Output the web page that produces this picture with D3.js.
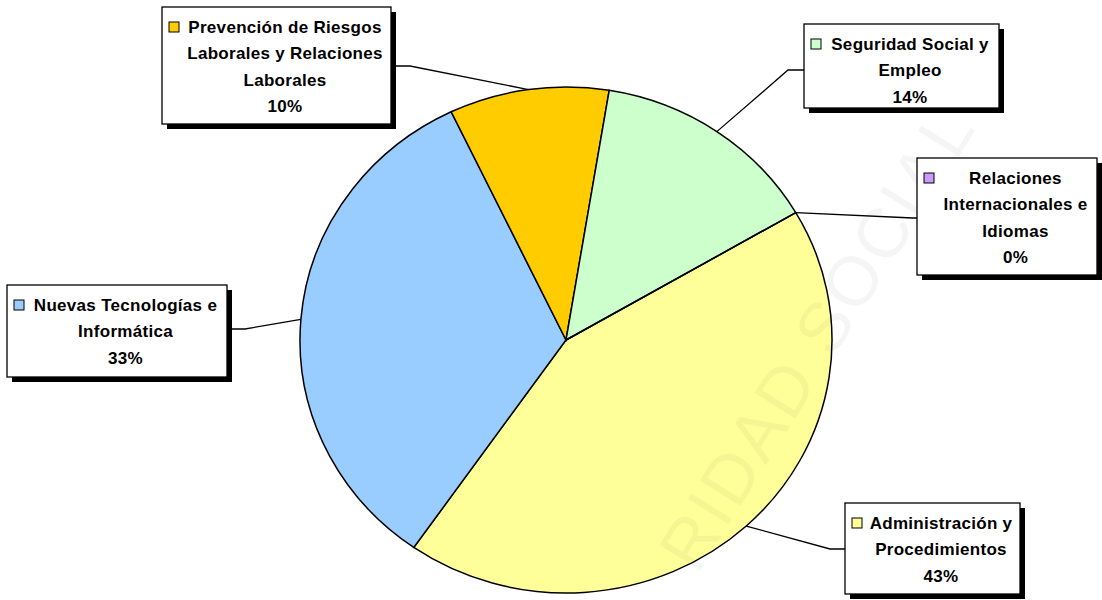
<!DOCTYPE HTML>
<html lang="es">
<head>
<meta charset="utf-8">
<title>Distribución por áreas</title>
<style>
html, body {
    margin: 0;
    background: #fff;
 }
svg text {
    font-family: "Liberation Sans", Arial, sans-serif;
    font-weight: bold;
    font-size: 17px;
    letter-spacing: 0.3px;
    fill: #000;
 }
.slice {
    stroke: #000;
    stroke-width: 1.5;
 }
.leader {
    fill: none;
    stroke: #000;
    stroke-width: 1.3;
 }
svg text.watermark {
    font-weight: normal;
    font-size: 70px;
    letter-spacing: 3px;
    fill: rgba(0, 0, 0, 0.04);
 }
</style>
</head>
<body>

<script src="https://cdnjs.cloudflare.com/ajax/libs/d3/7.8.5/d3.min.js"></script>
<script>
(function() {
  'use strict';

  // Data (percent shares)
  const categories = [
    'Administración y Procedimientos',
    'Nuevas Tecnologías e Informática',
    'Prevención de Riesgos Laborales y Relaciones Laborales',
    'Seguridad Social y Empleo',
    'Relaciones Internacionales e Idiomas'
  ];
  const values = [43.1, 33.2, 9.7, 14.0, 0];
  const colors = ['#ffff99', '#99ccff', '#ffcc00', '#ccffcc', '#cc99ff'];
  // label text, split the way the chart wraps it
  const labelLines = [
    ['Administración y', 'Procedimientos'],
    ['Nuevas Tecnologías e', 'Informática'],
    ['Prevención de Riesgos', 'Laborales y Relaciones', 'Laborales'],
    ['Seguridad Social y', 'Empleo'],
    ['Relaciones', 'Internacionales e', 'Idiomas']
  ];

  // Layout
  const width = 1102, height = 600;
  const cx = 566, cy = 340, rx = 266, ry = 253;
  const startAngle = 59.75 * Math.PI / 180;
  const lineH = 26.5;
  const boxes = [
    { x: 845, y: 503, w: 175, h: 91,  ex: 830, ey: 549, side: 'left' },
    { x: 7,   y: 285, w: 220, h: 92,  ex: 245, ey: 329, side: 'right' },
    { x: 162, y: 7,   w: 229, h: 117, ex: 410, ey: 66,  side: 'right' },
    { x: 804, y: 24,  w: 195, h: 84,  ex: 788, ey: 70,  side: 'left' },
    { x: 917, y: 158, w: 180, h: 117, ex: 913, ey: 218, side: 'left' }
  ];

  const svg = d3.select('body')
    .append('svg')
    .attr('width', width)
    .attr('height', height);

  const total = d3.sum(values);
  const pie = d3.pie()
    .sort(null)
    .value(d => d)
    .startAngle(startAngle)
    .endAngle(startAngle + 2 * Math.PI);
  const arcs = pie(values);

  const arc = d3.arc().innerRadius(0).outerRadius(ry);

  const pieG = svg.append('g')
    .attr('transform', 'translate(' + cx + ',' + cy + ') scale(' + (rx / ry) + ',1)');

  pieG.selectAll('path')
    .data(arcs)
    .enter()
    .append('path')
    .attr('class', 'slice')
    .attr('vector-effect', 'non-scaling-stroke')
    .attr('fill', (d, i) => colors[i])
    .attr('d', arc);

  // faint watermark over the pie (only the part visible in the picture)
  svg.append('text')
    .attr('class', 'watermark')
    .attr('text-anchor', 'end')
    .attr('transform', 'translate(978,126) rotate(-58)')
    .text('RIDAD SOCIAL');

  // leader lines and label boxes
  const labels = svg.append('g');

  arcs.forEach(function(d, i) {
    const b = boxes[i];
    const mid = (d.startAngle + d.endAngle) / 2;
    const px = cx + rx * Math.sin(mid);
    const py = cy - ry * Math.cos(mid);
    const ax = b.side === 'left' ? b.x : b.x + b.w;

    labels.append('path')
      .attr('class', 'leader')
      .attr('d', d3.line()([[px, py], [b.ex, b.ey], [ax, b.ey]]));

    const g = labels.append('g');
    g.append('rect')
      .attr('x', b.x + 5)
      .attr('y', b.y + 5)
      .attr('width', b.w)
      .attr('height', b.h)
      .attr('fill', '#000');
    g.append('rect')
      .attr('x', b.x)
      .attr('y', b.y)
      .attr('width', b.w)
      .attr('height', b.h)
      .attr('fill', '#fff')
      .attr('stroke', '#000')
      .attr('stroke-width', 1.3);

    const firstY = b.y + 20;
    g.append('rect')
      .attr('x', b.x + 7)
      .attr('y', firstY - 5)
      .attr('width', 10)
      .attr('height', 10)
      .attr('fill', colors[i])
      .attr('stroke', '#000')
      .attr('stroke-width', 1);

    const lines = labelLines[i].concat([Math.round(d.data / total * 100) + '%']);
    g.selectAll('text.lbl')
      .data(lines)
      .enter()
      .append('text')
      .attr('class', 'lbl')
      .attr('x', b.x + b.w / 2 + 8.5)
      .attr('y', (t, j) => firstY + j * lineH)
      .attr('dy', '0.35em')
      .attr('text-anchor', 'middle')
      .text(t => t);
  });

  svg.attr('aria-label', categories.join(', '));
}());
</script>

</body>
</html>
